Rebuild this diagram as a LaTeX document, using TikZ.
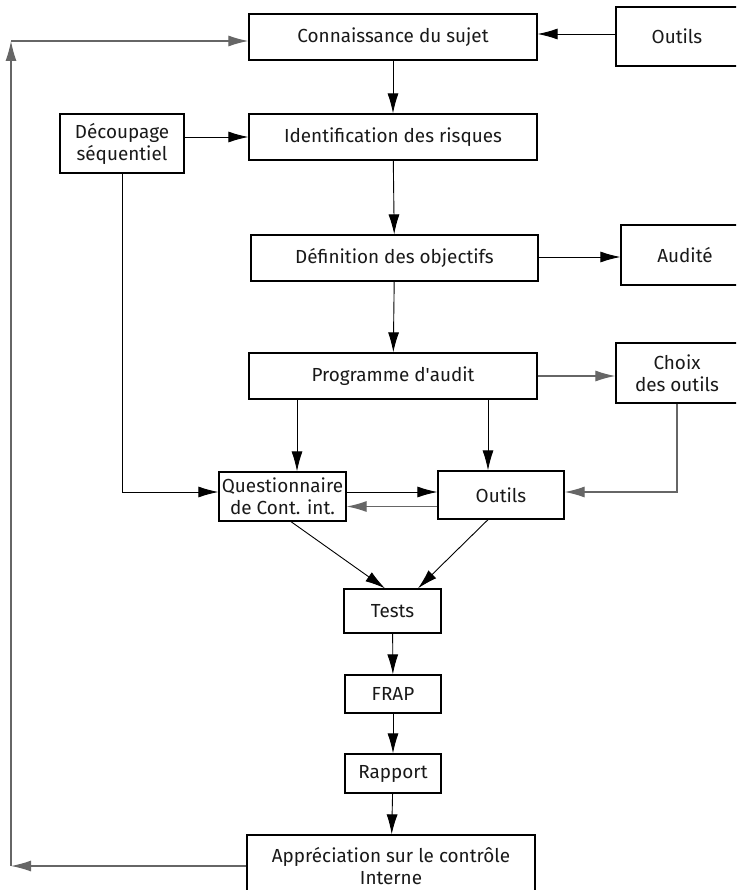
\documentclass[tikz,border=0pt]{standalone}
\usepackage{fontspec}
\setmainfont{Fira Sans}
\usetikzlibrary{arrows.meta}

\begin{document}
\begin{tikzpicture}[x=1pt,y=-1pt,->,>={Latex[length=20pt,width=11pt]},line width=0.9pt,
    box node/.style={draw,line width=1.3pt,inner sep=0pt,align=center,text=black!90,font=\fontsize{18.9}{22}\selectfont},
    grey line/.style={draw=black!60,line width=1.2pt}]

            \useasboundingbox (0,0) rectangle (736,890);
            \clip (0,0) rectangle (736,890);

            \node[box node, minimum width=288pt, minimum height=46pt] (conn) at (393,37) {Connaissance du sujet};
            \node[box node, minimum width=122pt, minimum height=59pt] (outa) at (677,36.5) {Outils};
            \node[box node, minimum width=124pt, minimum height=59pt] (decoup) at (122,143.5) {Découpage\\séquentiel};
            \node[box node, minimum width=288pt, minimum height=46pt] (ident) at (393,137) {Identification des risques};
            \node[box node, minimum width=287pt, minimum height=46pt] (def) at (394.5,258) {Définition des objectifs};
            \node[box node, minimum width=128pt, minimum height=60pt] (audite) at (685,255) {Audité};
            \node[box node, minimum width=288pt, minimum height=46pt] (prog) at (393,376) {Programme d\textquotesingle audit};
            \node[box node, minimum width=122pt, minimum height=60pt] (choix) at (677,373) {Choix\\des outils};
            \node[box node, minimum width=127pt, minimum height=49pt] (quest) at (282.5,496.5) {Questionnaire\\de Cont. int.};
            \node[box node, minimum width=126pt, minimum height=48pt] (outb) at (501,495) {Outils};
            \node[box node, minimum width=97pt, minimum height=44pt] (tests) at (392.5,611) {Tests};
            \node[box node, minimum width=96pt, minimum height=38pt] (frap) at (393,694) {FRAP};
            \node[box node, minimum width=96pt, minimum height=39pt] (rapport) at (393,773.5) {Rapport};
            \node[box node, minimum width=288pt, minimum height=62pt] (appr) at (391,866) {Appréciation sur le contrôle\\Interne};

            \coordinate (lb) at (11,866);
            \coordinate (lt) at (11,41);

            \draw (outa.west |- 0,34) -- (conn.east |- 0,34);
            \draw (conn) to (ident);
            \draw (ident.west -| decoup.east) -- (ident.west);
            \draw (ident) to (def);
            \draw (def.east |- 0,257) -- (audite.west |- 0,257);
            \draw (def) to (prog);
            \draw[grey line] (prog.east) -- (choix.west |- prog.east);

            \draw ([xshift=14.5pt]quest.north |- prog.south) -- ([xshift=14.5pt]quest.north);
            \draw ([xshift=-13pt]outb.north |- prog.south) -- ([xshift=-13pt]outb.north);
            \draw (decoup.south) |- ([yshift=4.5pt]quest.west);
            \draw ([yshift=4.5pt]quest.east) -- ([yshift=4.5pt]quest.east -| outb.west);
            \draw[grey line] ([yshift=-10pt]quest.east -| outb.west) -- ([yshift=-10pt]quest.east);
            \draw[grey line] (choix.south) |- ([yshift=3pt]outb.east);

            \draw ([xshift=8.5pt]quest.south) -- ([xshift=-7.5pt]tests.north);
            \draw ([xshift=-13pt]outb.south) -- ([xshift=25.5pt]tests.north);
            \draw (tests) to (frap);
            \draw (frap) to (rapport);
            \draw (rapport) to (appr);

            \draw[grey line] (appr.west) -- (lb);
            \draw[grey line] (lb) -- (lt);
            \draw[grey line] (lt) -- ([yshift=-4pt]conn.west);

        \end{tikzpicture}
\end{document}
